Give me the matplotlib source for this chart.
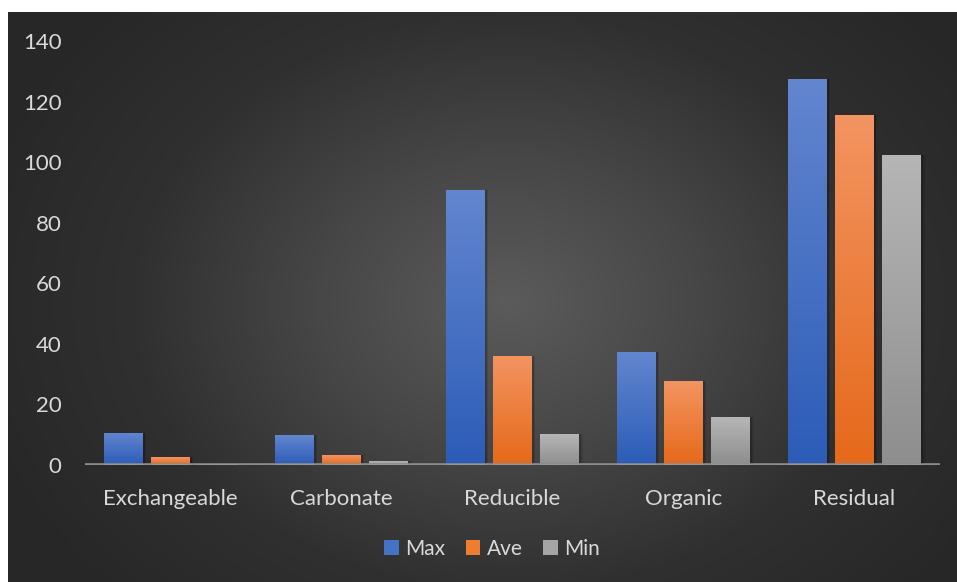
import numpy as np
import matplotlib
matplotlib.use("Agg")
import matplotlib.pyplot as plt
from matplotlib.colors import LinearSegmentedColormap
from matplotlib.patches import Rectangle

categories = ["Exchangeable", "Carbonate", "Reducible", "Organic", "Residual"]
series_names = ["Max", "Ave", "Min"]
max_vals = [10.6, 9.9, 90.8, 37.3, 127.4]
ave_vals = [2.6, 3.3, 36.0, 27.7, 115.5]
min_vals = [0.2, 1.3, 10.2, 15.8, 102.3]
y_ticks = [0, 20, 40, 60, 80, 100, 120, 140]

series_values = [max_vals, ave_vals, min_vals]
grad_colors = [("#6386cf", "#2c5cb7"), ("#f39461", "#e5691a"), ("#b6b6b6", "#8e8e8e")]
legend_colors = ["#4472c4", "#ed7d31", "#a5a5a5"]

W, H = 957, 582
fig = plt.figure(figsize=(W / 100, H / 100), dpi=100)
fig.patch.set_facecolor("white")

# background with radial gradient
bg = fig.add_axes([8 / W, 0, 1 - 8 / W, 1 - 12 / H])
bg.set_axis_off()
yy, xx = np.mgrid[0:570, 0:949]
cx, cy = 500, 290
r = np.sqrt(((xx - cx) / 560.0) ** 2 + ((yy - cy) / 430.0) ** 2)
r = np.clip(r, 0, 1)
bgcmap = LinearSegmentedColormap.from_list("bg", ["#5b5b5b", "#474747", "#303030", "#272727"])
bg.imshow(r, cmap=bgcmap, vmin=0, vmax=1, aspect="auto", extent=[0, 1, 0, 1], interpolation="bilinear")
bg.set_xlim(0, 1)
bg.set_ylim(0, 1)

ax = fig.add_axes([85 / W, (H - 465) / H, 855 / W, 424 / H])
ax.patch.set_alpha(0)
for s in ax.spines.values():
    s.set_visible(False)

x = np.arange(len(categories))
bw = 0.228
offs = [-0.276, 0.0, 0.276]
grad = np.linspace(1, 0, 256).reshape(-1, 1)
for vals, off, (ctop, cbot), name in zip(series_values, offs, grad_colors, series_names):
    bars = ax.bar(x + off, vals, width=bw, color="none", edgecolor="none", zorder=3)
    cm = LinearSegmentedColormap.from_list(name, [cbot, ctop])
    for b in bars:
        x0, y0 = b.get_x(), b.get_y()
        w, h = b.get_width(), b.get_height()
        # shadow
        for k, a in [(0.012, 0.18), (0.020, 0.10)]:
            ax.add_patch(Rectangle((x0 + k, y0), w, h, facecolor="black", alpha=a,
                                   edgecolor="none", zorder=2))
        im = ax.imshow(grad, cmap=cm, vmin=0, vmax=1, aspect="auto",
                       extent=[x0, x0 + w, y0, y0 + h], zorder=3, interpolation="bilinear")
        im.set_clip_path(b)
        # light base line of each bar
        ax.plot([x0, x0 + w], [0, 0], color="#c8c8c8", lw=1.0, zorder=4.5,
                solid_capstyle="butt")

ax.set_xlim(-0.5, len(categories) - 0.5)
ax.set_ylim(0, 140)
ax.axhline(0, color="#8c8c8c", lw=2.6, zorder=4)
ax.set_yticks(y_ticks)
ax.set_yticklabels([str(t) for t in y_ticks])
ax.set_xticks(x)
ax.set_xticklabels(categories)
ax.tick_params(axis="both", length=0, colors="#d9d9d9", labelsize=16)
ax.tick_params(axis="y", pad=17)
ax.tick_params(axis="x", pad=17)
for lab in ax.get_xticklabels() + ax.get_yticklabels():
    lab.set_fontfamily("Lato")
    lab.set_color("#d9d9d9")

handles = [Rectangle((0, 0), 1, 1, facecolor=c) for c in legend_colors]
leg = fig.legend(handles, series_names, loc="center", bbox_to_anchor=(492 / W, 1 - 549 / H),
                 ncol=3, frameon=False, handlelength=0.7, handleheight=0.7,
                 handletextpad=0.3, columnspacing=1.0,
                 prop={"family": "Lato", "size": 15})
for t in leg.get_texts():
    t.set_color("#d9d9d9")

fig.savefig("out.png", dpi=100, facecolor=fig.get_facecolor())
